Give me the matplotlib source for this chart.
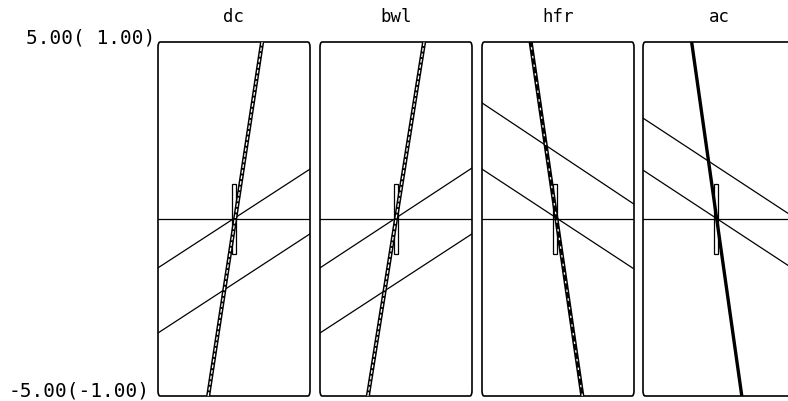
import matplotlib.pyplot as plt
from matplotlib.patches import FancyBboxPatch, Rectangle

# panel names and line end values (x range -1..1, y range -5..5)
panels = ['dc', 'bwl', 'hfr', 'ac']
upper_left = [-1.38, -1.38, 3.28, 2.85]
upper_right = [1.41, 1.44, 0.42, 0.03]
lower_left = [-3.22, -3.22, 1.41, 1.38]
lower_right = [-0.42, -0.42, -1.41, -1.44]
steep_top_x = [0.37, 0.37, -0.36, -0.36]
steep_bot_x = [-0.34, -0.37, 0.32, 0.30]
rect_x = [0.0, 0.0, -0.04, -0.04]
rect_half = 1.0
ylabels = ['5.00( 1.00)', '-5.00(-1.00)']

W, H = 788, 401
fig = plt.figure(figsize=(W / 100, H / 100), dpi=100)
mono = 'DejaVu Sans Mono'

lefts = [158, 320, 482, 643]
pw, top, bot = 152, 42, 396

for i, name in enumerate(panels):
    ax = fig.add_axes([lefts[i] / W, (H - bot) / H, pw / W, (bot - top) / H])
    ax.set_xlim(-1, 1)
    ax.set_ylim(-5, 5)
    ax.axis('off')

    frame = FancyBboxPatch((0, 0), 1, 1, boxstyle='round,pad=0,rounding_size=0.015',
                           transform=ax.transAxes, fill=False, lw=1.2,
                           edgecolor='black', clip_on=False)
    ax.add_patch(frame)

    ax.plot([-1, 1], [0, 0], color='black', lw=0.9)
    ax.plot([-1, 1], [upper_left[i], upper_right[i]], color='black', lw=0.9)
    ax.plot([-1, 1], [lower_left[i], lower_right[i]], color='black', lw=0.9)

    ax.add_patch(Rectangle((rect_x[i] - 0.025, -rect_half), 0.05, 2 * rect_half,
                           fill=False, edgecolor='black', lw=0.9))

    sx = [steep_bot_x[i], steep_top_x[i]]
    sy = [-5, 5]
    if name == 'ac':
        ax.plot(sx, sy, color='black', lw=2.4, solid_capstyle='butt')
    else:
        ax.plot(sx, sy, color='black', lw=3.0, solid_capstyle='butt')
        dash = (2, 5) if name == 'hfr' else (3, 1.5)
        ax.plot(sx, sy, color='white', lw=0.9, dashes=dash)

    fig.text((lefts[i] + pw / 2) / W, 1 - 17 / H, name, ha='center', va='center',
             family=mono, fontsize=12.5)

fig.text(155 / W, 1 - 38 / H, ylabels[0], ha='right', va='center',
         family=mono, fontsize=14)
fig.text(150 / W, 1 - 391 / H, ylabels[1], ha='right', va='center',
         family=mono, fontsize=14)

fig.savefig('out.png', dpi=100)
